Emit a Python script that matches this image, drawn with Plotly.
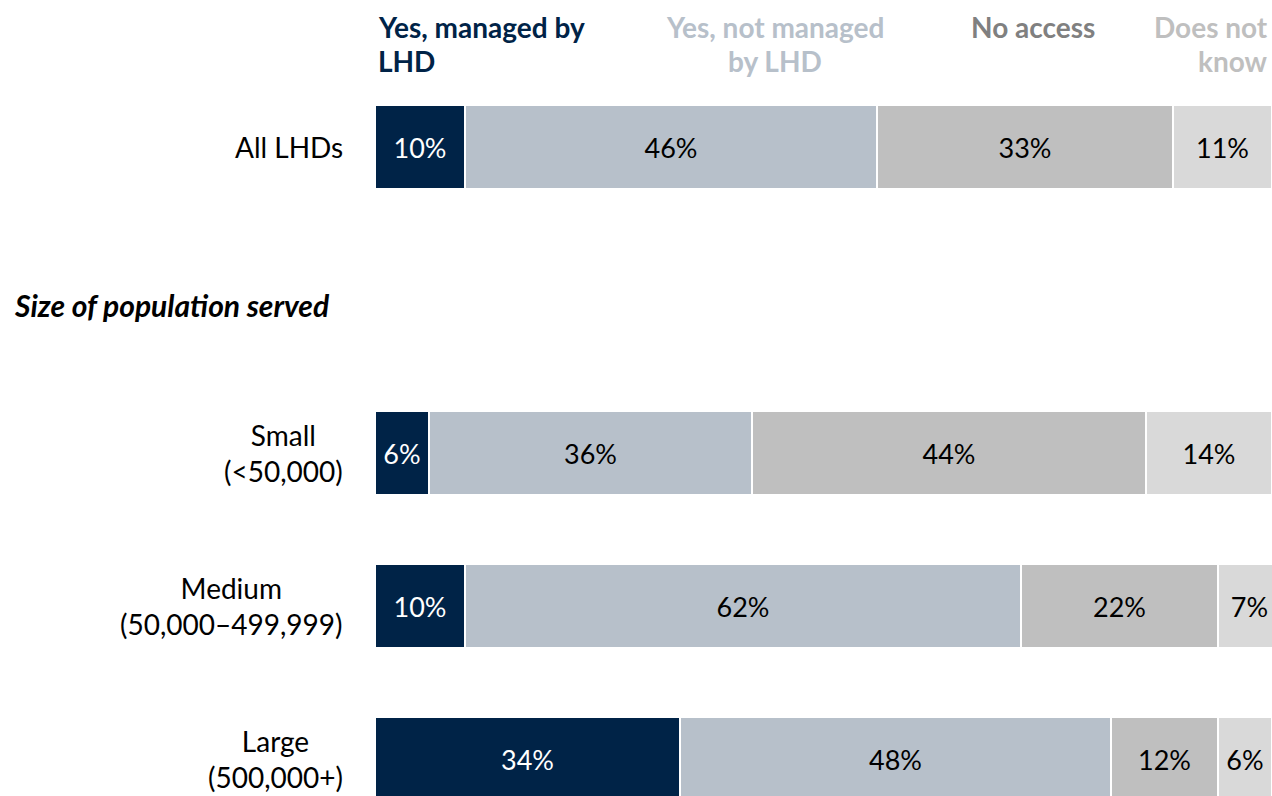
import plotly.graph_objects as go

categories = ["All LHDs", "Small<br>(<50,000)", "Medium<br>(50,000–499,999)", "Large<br>(500,000+)"]
row_pos = [0, 2, 3, 4]
series_names = ["Yes, managed by LHD", "Yes, not managed by LHD", "No access", "Does not know"]
managed = [10, 6, 10, 34]
not_managed = [46, 36, 62, 48]
no_access = [33, 44, 22, 12]
dont_know = [11, 14, 7, 6]
section_label = "Size of population served"

colors = ["#002347", "#b7c0ca", "#bfbfbf", "#d9d9d9"]
text_colors = ["white", "black", "black", "black"]
header_colors = ["#002347", "#b7c0ca", "#808080", "#bfbfbf"]
FONT = "Lato"
FS = 27

fig = go.Figure()
for name, vals, c, tc in zip(series_names, [managed, not_managed, no_access, dont_know], colors, text_colors):
    fig.add_trace(go.Bar(
        y=row_pos, x=vals, name=name, orientation="h",
        marker=dict(color=c, line=dict(color="white", width=2)),
        width=0.55,
        text=[f"{v}%" for v in vals], textposition="inside",
        insidetextanchor="middle", constraintext="none",
        textfont=dict(family=FONT, size=FS, color=tc),
        hoverinfo="skip",
    ))

# Row labels
for cat, yp in zip(categories, row_pos):
    fig.add_annotation(xref="paper", yref="y", x=0, y=yp, xanchor="right", xshift=-30,
                       text=cat, showarrow=False, align="center",
                       font=dict(family=FONT, size=FS + 1, color="black"))

fig.add_annotation(xref="paper", yref="y", x=0, y=1, xanchor="left", xshift=-363, yshift=-5,
                   text=f"<b><i>{section_label}</i></b>", showarrow=False,
                   font=dict(family=FONT, size=30, color="black"))

# Column headers
hdr = [
    (["Yes, managed by", "LHD"], 0, "left", 1),
    (["Yes, not managed", "by LHD"], 44.6, "center", 0),
    (["No access", ""], 73.4, "center", 0),
    (["Does not", "know"], 100, "right", -2),
]
for (lines, xpos, anchor, xs), hc in zip(hdr, header_colors):
    for i, ln in enumerate(lines):
        if not ln:
            continue
        fig.add_annotation(xref="x", yref="paper", x=xpos, y=1, yanchor="middle", xanchor=anchor,
                           xshift=xs, yshift=-27 - 34 * i, text=f"<b>{ln}</b>", showarrow=False,
                           font=dict(family=FONT, size=FS + 1, color=hc))

fig.update_layout(
    barmode="stack", width=1272, height=796, showlegend=False,
    paper_bgcolor="white", plot_bgcolor="white",
    margin=dict(l=375, r=0, t=0, b=0),
    xaxis=dict(range=[0, 100], visible=False, fixedrange=True),
    yaxis=dict(range=[4.242, -0.961], visible=False, fixedrange=True),
    bargap=0,
)
fig.write_html("out.html", config={"displayModeBar": False},
               post_script="document.body.style.margin='0px';document.body.style.overflow='hidden';")
